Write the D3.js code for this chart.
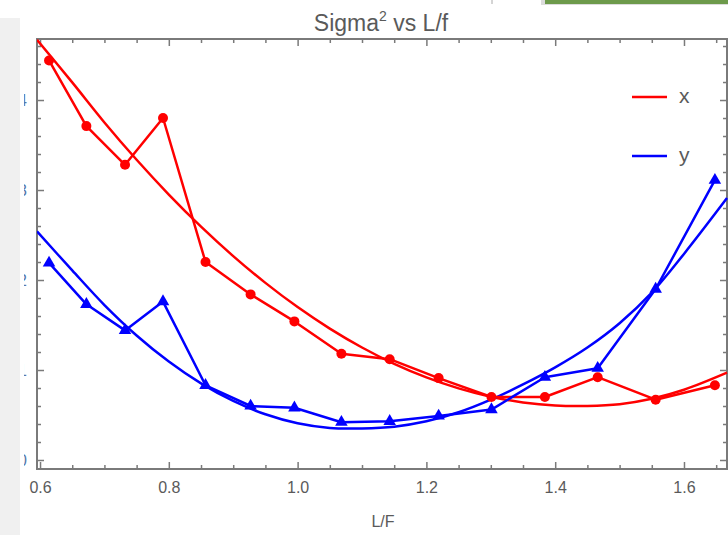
<!DOCTYPE html>
<html>
<head>
<meta charset="utf-8">
<script src="https://cdn.jsdelivr.net/npm/d3@7"></script>
<style>
  html, body { margin: 0; padding: 0; background: #ffffff; }
  svg { display: block; }
  text { font-family: "Liberation Sans", Arial, sans-serif; }
</style>
</head>
<body>
<svg id="chart" width="728" height="535"></svg>
<script>
// ---- data ----
const lf = [0.614, 0.672, 0.732, 0.791, 0.857, 0.927, 0.995, 1.068, 1.143, 1.219, 1.301, 1.384, 1.466, 1.556, 1.648];
const sigmaX = [4.44, 3.71, 3.28, 3.80, 2.20, 1.84, 1.54, 1.18, 1.12, 0.91, 0.70, 0.70, 0.92, 0.67, 0.83];
const sigmaY = [2.19, 1.73, 1.44, 1.76, 0.83, 0.60, 0.58, 0.42, 0.43, 0.49, 0.56, 0.92, 1.02, 1.90, 3.11];

// fitted curves
const fitLf = [0.5953, 0.65, 0.70, 0.75, 0.80, 0.85, 0.90, 0.95, 1.00, 1.05, 1.10, 1.15, 1.20, 1.25, 1.30, 1.35, 1.40, 1.45, 1.50, 1.55, 1.60, 1.6668];
const fitX  = [4.67, 4.196, 3.751, 3.336, 2.950, 2.593, 2.266, 1.968, 1.699, 1.460, 1.250, 1.069, 0.918, 0.796, 0.703, 0.640, 0.606, 0.601, 0.62, 0.68, 0.78, 0.97];
const fitY  = [2.54, 2.107, 1.722, 1.384, 1.094, 0.851, 0.656, 0.508, 0.408, 0.356, 0.351, 0.37, 0.43, 0.53, 0.67, 0.84, 1.03, 1.25, 1.52, 1.86, 2.29, 2.91];

const xTickLabels = ["0.6", "0.8", "1.0", "1.2", "1.4", "1.6"];
const yTickLabels = ["0", "1", "2", "3", "4"];
const seriesNames = ["x", "y"];
const seriesColors = ["#ff0000", "#0000ff"];

// ---- layout ----
const svg = d3.select("#chart");
const L = 37, R = 727, T = 39, B = 469;
const x = d3.scaleLinear().domain([0.5953, 1.6668]).range([L, R]);
const y = d3.scaleLinear().domain([-0.1, 4.678]).range([B, T]);

const frameColor = "#7a7a7a";
const textColor = "#5a5a5a";

// frame
svg.append("rect").attr("x", L).attr("y", T).attr("width", R - L).attr("height", B - T)
  .attr("fill", "#ffffff").attr("stroke", frameColor).attr("stroke-width", 2);

// ticks
const xMajor = xTickLabels.map(Number);
const xMinor = d3.range(0.6, 1.70001, 0.05).map(v => +v.toFixed(2)).filter(v => x(v) <= R && !xMajor.some(m => Math.abs(m - v) < 1e-6));
const yMajor = yTickLabels.map(Number);
const yMinor = d3.range(0, 4.61, 0.2).map(v => +v.toFixed(2)).filter(v => !yMajor.some(m => Math.abs(m - v) < 1e-6));

function tickAxis(axisFn, scale, vals, size, tx, ty, showLabels, labels) {
  const ax = axisFn(scale).tickValues(vals).tickSizeInner(-size).tickSizeOuter(0);
  if (showLabels) ax.tickFormat((d, i) => labels[i]).tickPadding(size + 10);
  else ax.tickFormat("");
  const g = svg.append("g").attr("transform", `translate(${tx},${ty})`).call(ax);
  g.select(".domain").remove();
  g.selectAll(".tick line").attr("stroke", frameColor).attr("stroke-width", 1.5);
  return g;
}
// bottom
const gxb = tickAxis(d3.axisBottom, x, xMajor, 7, 0, B, true, xTickLabels);
gxb.selectAll("text").attr("font-size", 16).attr("fill", textColor).attr("dy", "0.71em")
  .attr("y", 13);
tickAxis(d3.axisBottom, x, xMinor, 4, 0, B, false);
// top
tickAxis(d3.axisTop, x, xMajor, 7, 0, T, false);
tickAxis(d3.axisTop, x, xMinor, 4, 0, T, false);
// left
const gyl = tickAxis(d3.axisLeft, y, yMajor, 7, L, 0, true, yTickLabels);
gyl.selectAll("text").attr("font-size", 16).attr("fill", "#5577aa").attr("x", -10);
tickAxis(d3.axisLeft, y, yMinor, 4, L, 0, false);
// right
tickAxis(d3.axisRight, y, yMajor, 7, R, 0, false);
tickAxis(d3.axisRight, y, yMinor, 4, R, 0, false);

// clip for plot area
svg.append("clipPath").attr("id", "plotclip").append("rect")
  .attr("x", L).attr("y", T - 2).attr("width", R - L + 2).attr("height", B - T + 4);
const plot = svg.append("g").attr("clip-path", "url(#plotclip)");

const lineGen = d3.line().x(d => x(d[0])).y(d => y(d[1]));
const smoothGen = d3.line().x(d => x(d[0])).y(d => y(d[1])).curve(d3.curveCatmullRom.alpha(0.5));

// fit curves
[fitX, fitY].forEach((vals, k) => {
  plot.append("path").datum(fitLf.map((v, i) => [v, vals[i]]))
    .attr("d", smoothGen).attr("fill", "none")
    .attr("stroke", seriesColors[k]).attr("stroke-width", 2.5);
});
// data lines
[sigmaX, sigmaY].forEach((vals, k) => {
  plot.append("path").datum(lf.map((v, i) => [v, vals[i]]))
    .attr("d", lineGen).attr("fill", "none")
    .attr("stroke", seriesColors[k]).attr("stroke-width", 2.5).attr("stroke-linejoin", "round");
});
// markers
plot.selectAll("circle.mx").data(lf.map((v, i) => [v, sigmaX[i]])).join("circle")
  .attr("class", "mx").attr("cx", d => x(d[0])).attr("cy", d => y(d[1])).attr("r", 5)
  .attr("fill", seriesColors[0]);
const tri = d3.symbol().type(d3.symbolTriangle).size(68);
plot.selectAll("path.my").data(lf.map((v, i) => [v, sigmaY[i]])).join("path")
  .attr("class", "my").attr("d", tri)
  .attr("transform", d => `translate(${x(d[0])},${y(d[1])})`)
  .attr("fill", seriesColors[1]);

// legend
seriesNames.forEach((name, k) => {
  const ly = 97 + k * 59;
  svg.append("line").attr("x1", 632).attr("x2", 667).attr("y1", ly).attr("y2", ly)
    .attr("stroke", seriesColors[k]).attr("stroke-width", 2.5);
  svg.append("text").attr("x", 679).attr("y", ly + 6).attr("font-size", 21)
    .attr("fill", textColor).text(name);
});

// title
const title = svg.append("text").attr("x", 381).attr("y", 31).attr("text-anchor", "middle")
  .attr("font-size", 23).attr("fill", textColor);
title.append("tspan").text("Sigma");
title.append("tspan").attr("font-size", 14).attr("dy", -10).text("2");
title.append("tspan").attr("dy", 10).text(" vs L/f");

// x axis label
svg.append("text").attr("x", 383).attr("y", 527).attr("text-anchor", "middle")
  .attr("font-size", 16).attr("fill", textColor).text("L/F");

// surrounding screen elements of the screenshot
svg.append("rect").attr("x", 0).attr("y", 18).attr("width", 20).attr("height", 517).attr("fill", "#f0f0f0");
svg.append("rect").attr("x", 20).attr("y", 18).attr("width", 4).attr("height", 517).attr("fill", "#ffffff");
svg.append("rect").attr("x", 541).attr("y", 0).attr("width", 187).attr("height", 5).attr("fill", "#dcdcdc");
svg.append("rect").attr("x", 545).attr("y", 0).attr("width", 183).attr("height", 4).attr("fill", "#6d9a4b");
svg.append("line").attr("x1", 492).attr("x2", 492).attr("y1", 0).attr("y2", 4).attr("stroke", "#aaaaaa");
</script>
</body>
</html>
